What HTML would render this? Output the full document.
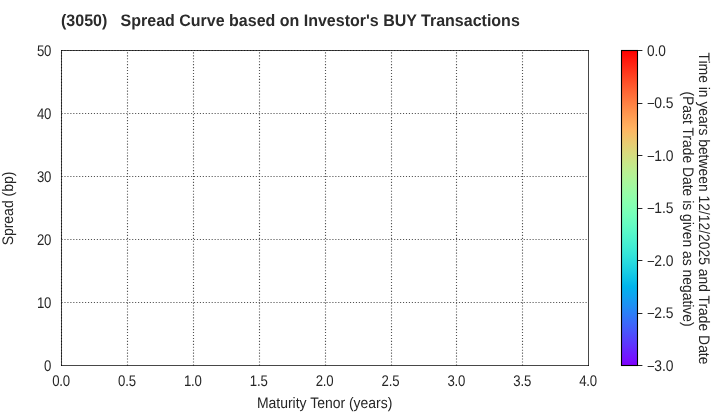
<!DOCTYPE html>
<html lang="en"><head><meta charset="utf-8"><title>Spread Curve</title>
<style>
html,body{margin:0;padding:0;background:#fff;}
body{width:720px;height:420px;overflow:hidden;}
svg{display:block;}
text{font-family:"Liberation Sans",sans-serif;fill:#262626;}
.t{font-size:13.89px;text-rendering:geometricPrecision;}
.k{letter-spacing:-0.2px;}
.title{font-size:16px;font-weight:bold;white-space:pre;text-rendering:geometricPrecision;fill:#2b2b2b;}
</style></head><body>
<svg width="720" height="420" viewBox="0 0 720 420">
<defs><linearGradient id="cb" x1="0" y1="0" x2="0" y2="1">
<stop offset="0.00000" stop-color="#ff0000"/>
<stop offset="0.01562" stop-color="#ff0d06"/>
<stop offset="0.03125" stop-color="#ff190d"/>
<stop offset="0.04688" stop-color="#ff2513"/>
<stop offset="0.06250" stop-color="#ff3219"/>
<stop offset="0.07812" stop-color="#ff3e1f"/>
<stop offset="0.09375" stop-color="#ff4a25"/>
<stop offset="0.10938" stop-color="#ff562c"/>
<stop offset="0.12500" stop-color="#ff6232"/>
<stop offset="0.14062" stop-color="#ff6d38"/>
<stop offset="0.15625" stop-color="#ff783e"/>
<stop offset="0.17188" stop-color="#ff8344"/>
<stop offset="0.18750" stop-color="#ff8e4a"/>
<stop offset="0.20312" stop-color="#ff9850"/>
<stop offset="0.21875" stop-color="#ffa256"/>
<stop offset="0.23438" stop-color="#ffab5c"/>
<stop offset="0.25000" stop-color="#ffb462"/>
<stop offset="0.26562" stop-color="#f7bd67"/>
<stop offset="0.28125" stop-color="#efc56d"/>
<stop offset="0.29688" stop-color="#e7cd73"/>
<stop offset="0.31250" stop-color="#dfd478"/>
<stop offset="0.32812" stop-color="#d7db7e"/>
<stop offset="0.34375" stop-color="#cfe183"/>
<stop offset="0.35938" stop-color="#c7e788"/>
<stop offset="0.37500" stop-color="#bfec8e"/>
<stop offset="0.39062" stop-color="#b7f093"/>
<stop offset="0.40625" stop-color="#aff498"/>
<stop offset="0.42188" stop-color="#a7f79d"/>
<stop offset="0.43750" stop-color="#9ffaa2"/>
<stop offset="0.45312" stop-color="#97fca7"/>
<stop offset="0.46875" stop-color="#8ffeab"/>
<stop offset="0.48438" stop-color="#87ffb0"/>
<stop offset="0.50000" stop-color="#80ffb4"/>
<stop offset="0.51562" stop-color="#78ffb9"/>
<stop offset="0.53125" stop-color="#70febd"/>
<stop offset="0.54688" stop-color="#68fcc1"/>
<stop offset="0.56250" stop-color="#60fac5"/>
<stop offset="0.57812" stop-color="#58f7c9"/>
<stop offset="0.59375" stop-color="#50f4cd"/>
<stop offset="0.60938" stop-color="#48f0d0"/>
<stop offset="0.62500" stop-color="#40ecd4"/>
<stop offset="0.64062" stop-color="#38e7d7"/>
<stop offset="0.65625" stop-color="#30e1db"/>
<stop offset="0.67188" stop-color="#28dbde"/>
<stop offset="0.68750" stop-color="#20d4e1"/>
<stop offset="0.70312" stop-color="#18cde4"/>
<stop offset="0.71875" stop-color="#10c5e7"/>
<stop offset="0.73438" stop-color="#08bde9"/>
<stop offset="0.75000" stop-color="#00b4ec"/>
<stop offset="0.76562" stop-color="#08abee"/>
<stop offset="0.78125" stop-color="#10a2f0"/>
<stop offset="0.79688" stop-color="#1898f2"/>
<stop offset="0.81250" stop-color="#208ef4"/>
<stop offset="0.82812" stop-color="#2883f6"/>
<stop offset="0.84375" stop-color="#3078f7"/>
<stop offset="0.85938" stop-color="#386df9"/>
<stop offset="0.87500" stop-color="#4062fa"/>
<stop offset="0.89062" stop-color="#4856fb"/>
<stop offset="0.90625" stop-color="#504afc"/>
<stop offset="0.92188" stop-color="#583efd"/>
<stop offset="0.93750" stop-color="#6032fe"/>
<stop offset="0.95312" stop-color="#6825fe"/>
<stop offset="0.96875" stop-color="#7019ff"/>
<stop offset="0.98438" stop-color="#780dff"/>
<stop offset="1.00000" stop-color="#8000ff"/>
</linearGradient></defs>
<rect x="0" y="0" width="720" height="420" fill="#fff"/>
<g stroke="#525252" stroke-width="1.111" stroke-dasharray="1.111 1.833" fill="none">
<path d="M61.5 365.5V50.5"/>
<path d="M127.5 365.5V50.5"/>
<path d="M193.5 365.5V50.5"/>
<path d="M259.5 365.5V50.5"/>
<path d="M325.5 365.5V50.5"/>
<path d="M391.5 365.5V50.5"/>
<path d="M456.5 365.5V50.5"/>
<path d="M522.5 365.5V50.5"/>
<path d="M61.5 302.500H588.5"/>
<path d="M61.5 239.500H588.5"/>
<path d="M61.5 176.500H588.5"/>
<path d="M61.5 113.500H588.5"/>
<path d="M61.5 50.500H588.5"/>
</g>
<g stroke="#000" stroke-opacity="0.72" stroke-width="1" stroke-linecap="square" fill="none">
<path d="M61.5 50.5V365.5"/><path d="M588.5 50.5V365.5"/><path d="M61.5 365.5H588.5"/><path d="M61.5 50.5H588.5"/>
</g>
<text class="t k" transform="translate(61.05 385.75) scale(0.95 1.11)" text-anchor="middle">0.0</text>
<text class="t k" transform="translate(126.92 385.75) scale(0.95 1.11)" text-anchor="middle">0.5</text>
<text class="t k" transform="translate(192.80 385.75) scale(0.95 1.11)" text-anchor="middle">1.0</text>
<text class="t k" transform="translate(258.68 385.75) scale(0.95 1.11)" text-anchor="middle">1.5</text>
<text class="t k" transform="translate(324.55 385.75) scale(0.95 1.11)" text-anchor="middle">2.0</text>
<text class="t k" transform="translate(390.43 385.75) scale(0.95 1.11)" text-anchor="middle">2.5</text>
<text class="t k" transform="translate(456.30 385.75) scale(0.95 1.11)" text-anchor="middle">3.0</text>
<text class="t k" transform="translate(522.17 385.75) scale(0.95 1.11)" text-anchor="middle">3.5</text>
<text class="t k" transform="translate(588.05 385.75) scale(0.95 1.11)" text-anchor="middle">4.0</text>
<text class="t k" transform="translate(51.20 370.75) scale(0.95 1.11)" text-anchor="end">0</text>
<text class="t k" transform="translate(51.20 307.75) scale(0.95 1.11)" text-anchor="end">10</text>
<text class="t k" transform="translate(51.20 244.75) scale(0.95 1.11)" text-anchor="end">20</text>
<text class="t k" transform="translate(51.20 181.75) scale(0.95 1.11)" text-anchor="end">30</text>
<text class="t k" transform="translate(51.20 118.75) scale(0.95 1.11)" text-anchor="end">40</text>
<text class="t k" transform="translate(51.20 55.75) scale(0.95 1.11)" text-anchor="end">50</text>
<text class="t" transform="translate(324.65 407.85) scale(1.006 1.1)" text-anchor="middle">Maturity Tenor (years)</text>
<text class="t" transform="translate(13.20 208.50) rotate(-90) scale(1.006 1.1)" text-anchor="middle">Spread (bp)</text>
<text class="title" transform="translate(61 25.65) scale(1 1.04)" xml:space="preserve">(3050)   Spread Curve based on Investor's BUY Transactions</text>
<rect x="621.5" y="50.5" width="16.0" height="315.0" fill="url(#cb)"/>
<rect x="621.5" y="50.5" width="16.0" height="315.0" fill="none" stroke="#000" stroke-width="1.111"/>
<g stroke="#262626" stroke-width="1">
<path d="M638.0 50.5H642.4"/>
<path d="M638.0 103.5H642.4"/>
<path d="M638.0 155.5H642.4"/>
<path d="M638.0 208.5H642.4"/>
<path d="M638.0 260.5H642.4"/>
<path d="M638.0 313.5H642.4"/>
<path d="M638.0 365.5H642.4"/>
</g>
<text class="t" transform="translate(646.90 56.00) scale(0.985 1.11)">0.0</text>
<text class="t" transform="translate(647.10 108.00) scale(0.95 0.977)">−</text>
<text class="t" transform="translate(654.29 108.00) scale(1.0 1.11)">0.5</text>
<text class="t" transform="translate(647.10 161.00) scale(0.95 0.977)">−</text>
<text class="t" transform="translate(654.29 161.00) scale(1.0 1.11)">1.0</text>
<text class="t" transform="translate(647.10 213.00) scale(0.95 0.977)">−</text>
<text class="t" transform="translate(654.29 213.00) scale(1.0 1.11)">1.5</text>
<text class="t" transform="translate(647.10 266.00) scale(0.95 0.977)">−</text>
<text class="t" transform="translate(654.29 266.00) scale(1.0 1.11)">2.0</text>
<text class="t" transform="translate(647.10 318.00) scale(0.95 0.977)">−</text>
<text class="t" transform="translate(654.29 318.00) scale(1.0 1.11)">2.5</text>
<text class="t" transform="translate(647.10 371.00) scale(0.95 0.977)">−</text>
<text class="t" transform="translate(654.29 371.00) scale(1.0 1.11)">3.0</text>
<text class="t" transform="translate(698.60 208.50) rotate(90) scale(1.0 1.1)" text-anchor="middle">Time in years between 12/12/2025 and Trade Date</text>
<text class="t" transform="translate(683.20 209.00) rotate(90) scale(1.0 1.1)" text-anchor="middle">(Past Trade Date is given as negative)</text>
</svg></body></html>
